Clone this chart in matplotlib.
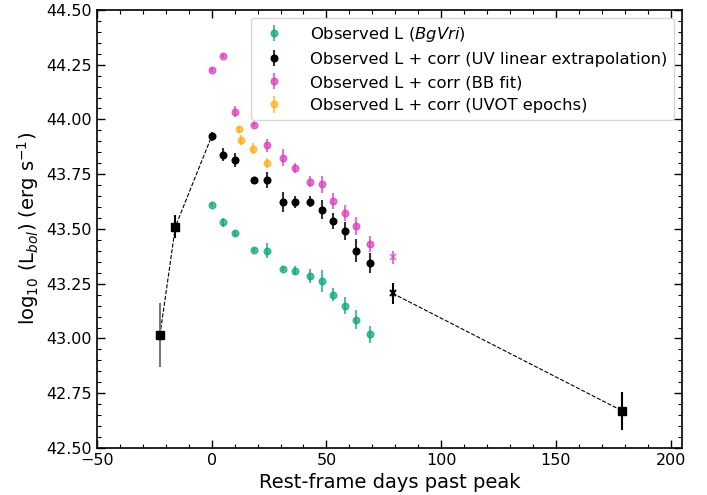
import numpy as np
import matplotlib
matplotlib.use("Agg")
import matplotlib.pyplot as plt
from matplotlib.ticker import MultipleLocator

# Observed L (BgVri)
t_obs = [0.0, 5.1, 10.2, 18.5, 24.3, 31.2, 36.1, 42.8, 47.9, 52.9, 58.0, 63.0, 68.8]
L_obs = [43.611, 43.531, 43.480, 43.405, 43.401, 43.319, 43.310, 43.285, 43.264,
         43.199, 43.150, 43.086, 43.019]
e_obs = [0.012, 0.02, 0.01, 0.01, 0.033, 0.01, 0.022, 0.03, 0.05, 0.03, 0.037, 0.042, 0.04]

# Observed L + corr (UV linear extrapolation)
t_uv = t_obs
L_uv = [43.923, 43.839, 43.815, 43.724, 43.724, 43.622, 43.622, 43.625, 43.588,
        43.537, 43.491, 43.400, 43.345]
e_uv = [0.02, 0.03, 0.03, 0.01, 0.038, 0.046, 0.028, 0.027, 0.044, 0.037, 0.04, 0.053, 0.046]

# Observed L + corr (BB fit)
t_bb = t_obs
L_bb = [44.227, 44.290, 44.036, 43.976, 43.882, 43.826, 43.777, 43.716, 43.704,
        43.627, 43.573, 43.514, 43.430]
e_bb = [0.01, 0.01, 0.025, 0.01, 0.03, 0.04, 0.023, 0.025, 0.038, 0.036, 0.037, 0.042, 0.036]

# BB fit, late epoch (star)
t_bb_late = [78.8]
L_bb_late = [43.371]
e_bb_late = [0.03]

# Observed L + corr (UVOT epochs)
t_uvot = [11.8, 12.7, 17.8, 24.3]
L_uvot = [43.955, 43.906, 43.867, 43.801]
e_uvot = [0.015, 0.023, 0.025, 0.025]

# early / late points joined by dashed lines
t_rise = [-22.5, -15.8]
L_rise = [43.016, 43.510]
e_rise = [0.146, 0.053]

t_x = [78.8]
L_x = [43.206]
e_x = [0.049]

t_late = [178.9]
L_late = [42.669]
e_late = [0.087]

c_green = '#0aa37c'
c_pink = '#d83cbe'
c_orange = '#ffa500'

fig, ax = plt.subplots(figsize=(7.07, 4.95), dpi=100)

# dashed connecting lines
ax.plot(t_rise + [t_uv[0]], L_rise + [L_uv[0]], ls='--', color='k', lw=0.8, zorder=1)
ax.plot(t_x + t_late, L_x + L_late, ls='--', color='k', lw=0.8, zorder=1)

ax.errorbar(t_obs, L_obs, yerr=e_obs, fmt='o', ms=4.8, color=c_green, alpha=0.7,
            label='Observed L ($BgVri$)')
ax.errorbar(t_uv, L_uv, yerr=e_uv, fmt='o', ms=4.8, color='k', ecolor='#333333',
            label='Observed L + corr (UV linear extrapolation)')
ax.errorbar(t_bb, L_bb, yerr=e_bb, fmt='o', ms=4.8, color=c_pink, alpha=0.7,
            label='Observed L + corr (BB fit)')
ax.errorbar(t_bb_late, L_bb_late, yerr=e_bb_late, fmt='x', ms=5, mew=1.2,
            color=c_pink, alpha=0.7)
ax.errorbar(t_uvot, L_uvot, yerr=e_uvot, fmt='o', ms=4.8, color=c_orange, alpha=0.6,
            label='Observed L + corr (UVOT epochs)')

ax.errorbar(t_rise[:1], L_rise[:1], yerr=e_rise[:1], fmt='s', ms=5.5, color='k',
            ecolor='#777777')
ax.errorbar(t_rise[1:], L_rise[1:], yerr=e_rise[1:], fmt='s', ms=5.5, color='k')
ax.errorbar(t_x, L_x, yerr=e_x, fmt='x', ms=5, mew=1.5, color='k')
ax.errorbar(t_late, L_late, yerr=e_late, fmt='s', ms=5.5, color='k')

ax.set_xlim(-50, 205)
ax.set_ylim(42.5, 44.5)
ax.xaxis.set_major_locator(MultipleLocator(50))
ax.xaxis.set_minor_locator(MultipleLocator(10))
ax.yaxis.set_major_locator(MultipleLocator(0.25))
ax.yaxis.set_minor_locator(MultipleLocator(0.05))
ax.tick_params(which='both', direction='in', top=True, right=True, labelsize=11.5)
ax.tick_params(which='major', length=6, width=1)
ax.tick_params(which='minor', length=3, width=0.8)
for s in ax.spines.values():
    s.set_linewidth(1.2)

ax.set_xlabel('Rest-frame days past peak', fontsize=14)
ax.set_ylabel(r'log$_{10}$ (L$_{bol}$) (erg s$^{-1}$)', fontsize=14)

ax.legend(loc='upper right', fontsize=11.8, handletextpad=1.2)

fig.subplots_adjust(left=0.137, right=0.965, top=0.98, bottom=0.095)
fig.savefig('out.png', dpi=100)
